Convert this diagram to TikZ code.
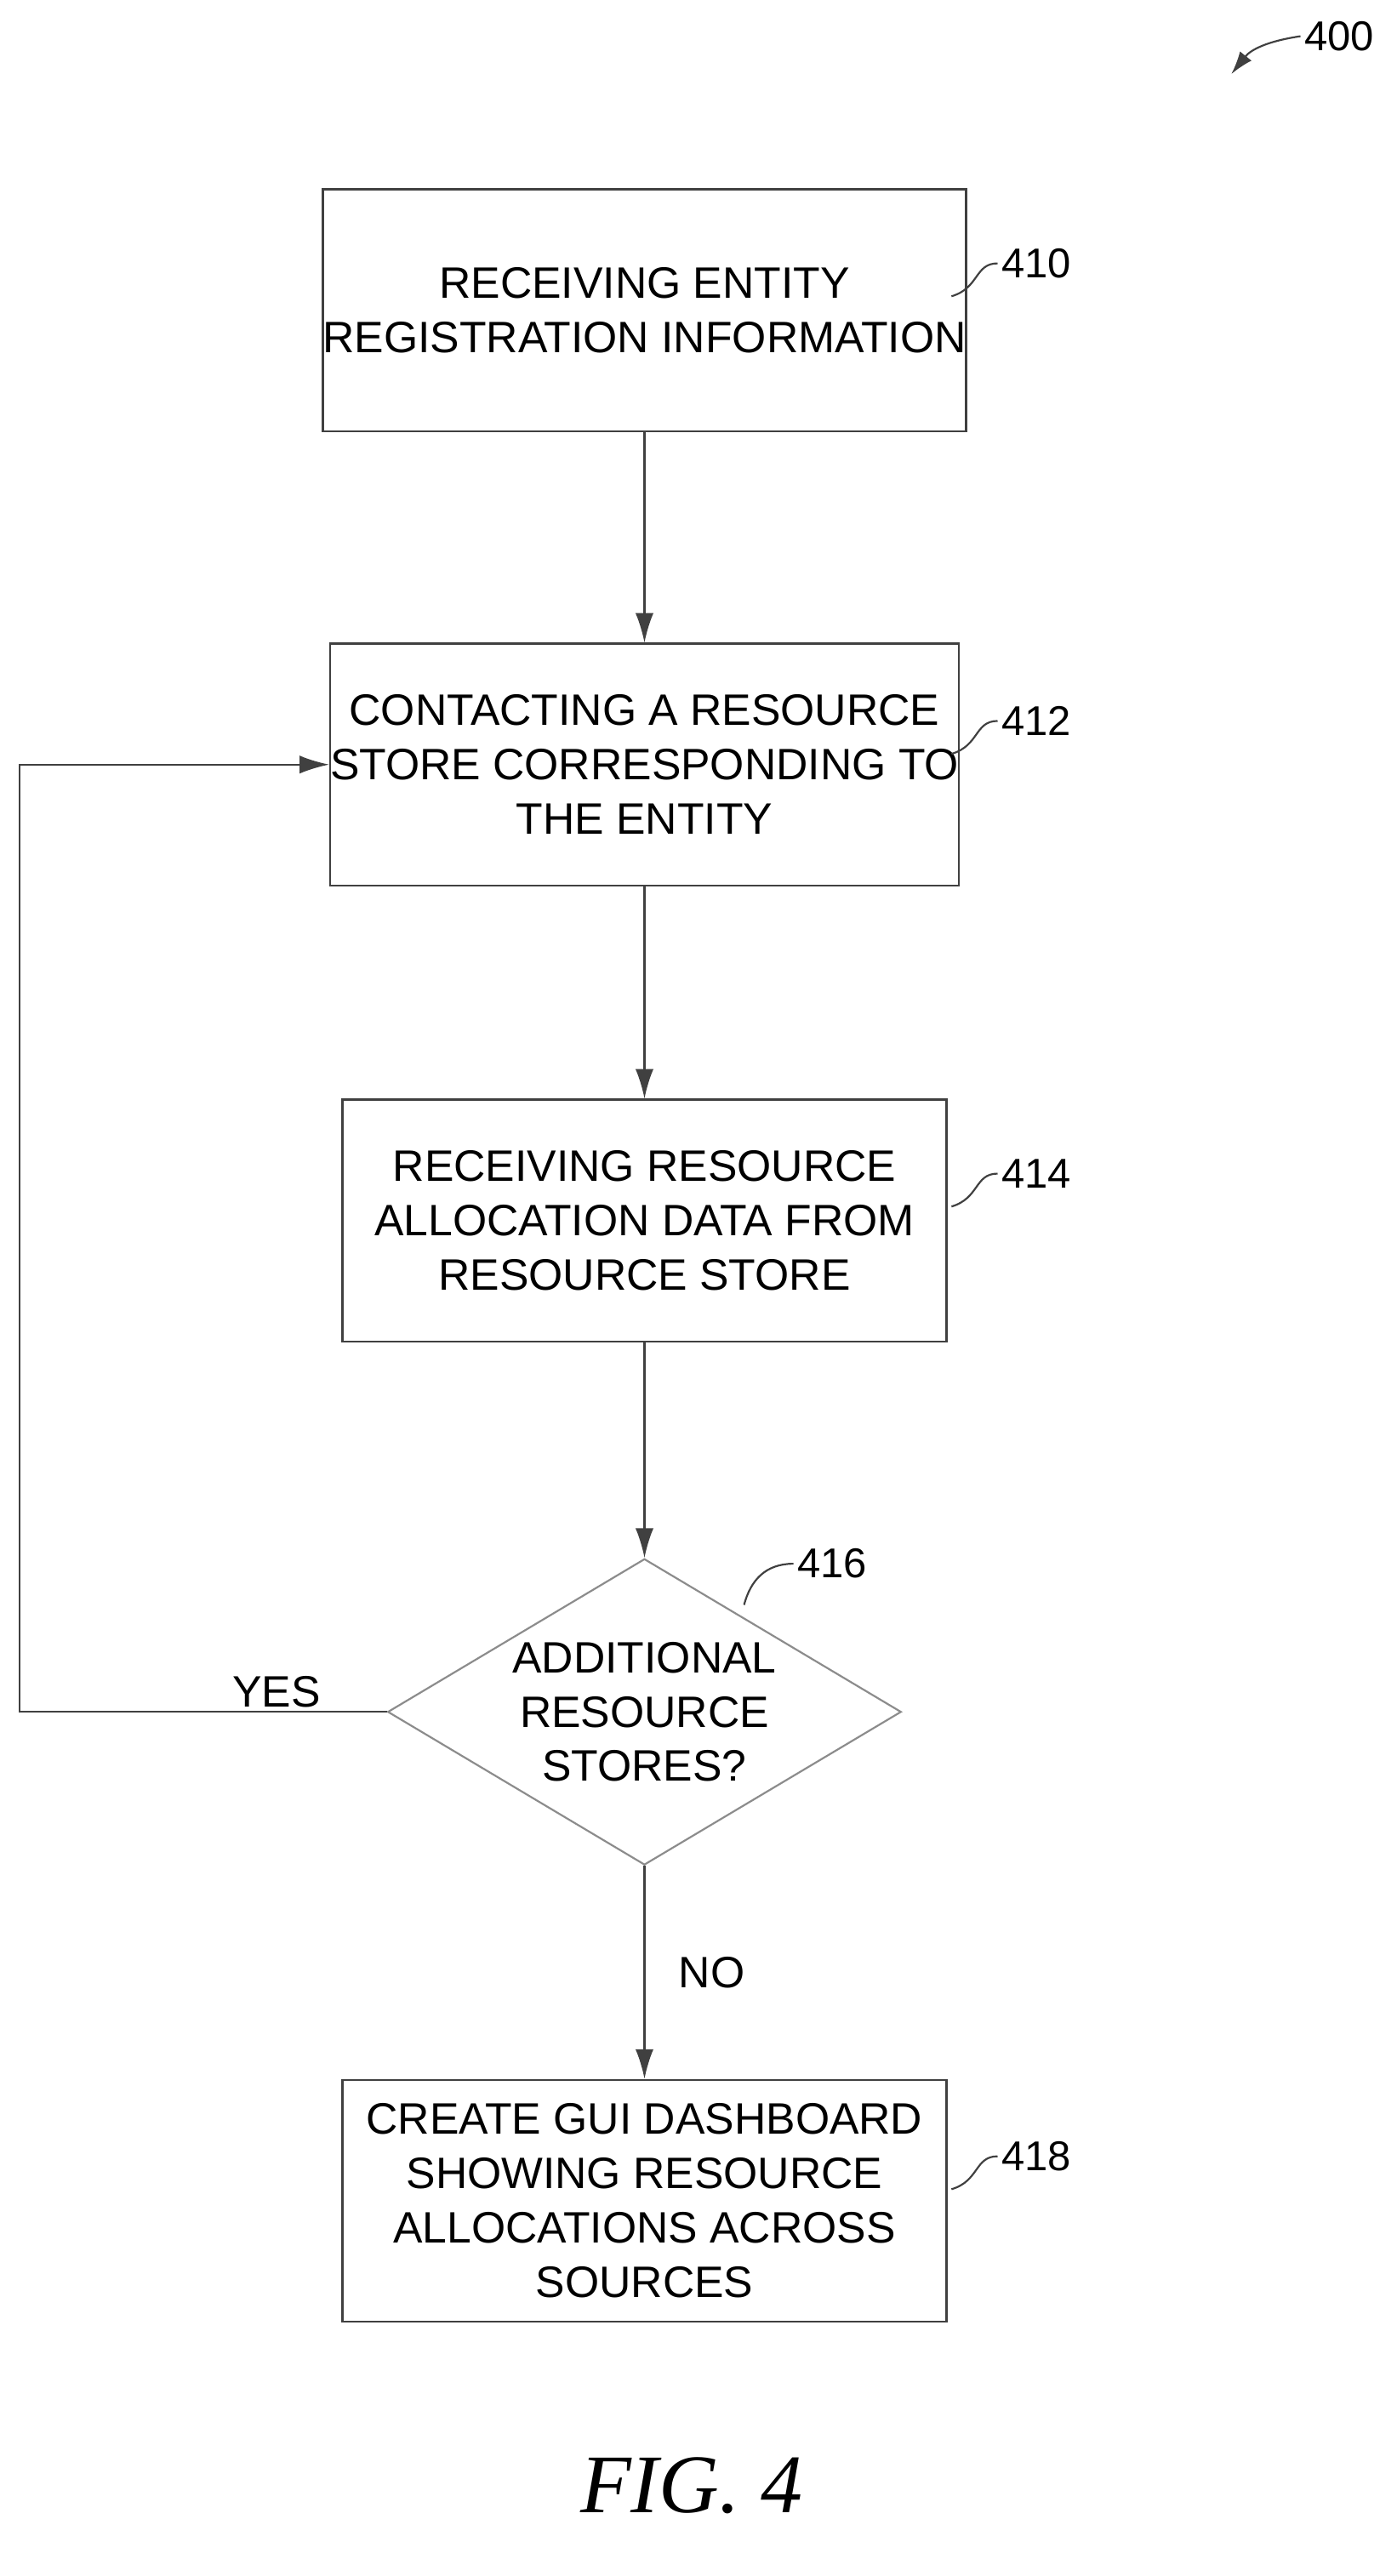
\documentclass[tikz,border=0pt]{standalone}
\usepackage{fontspec}
\setmainfont{Liberation Sans}
\newfontfamily\figfont{Liberation Serif}
\usetikzlibrary{shapes.geometric,arrows.meta,positioning}
\tikzset{
	process/.style={draw=black!75, line width=1.6pt, minimum width=18.35cm, minimum height=7.35cm, align=center, font=\fontsize{38}{47}\selectfont, inner sep=0pt},
	decision/.style={draw=black!45, line width=1.6pt, diamond, aspect=1.68, minimum width=15.6cm, minimum height=9.3cm, align=center, inner sep=0pt, font=\fontsize{38}{47}\selectfont},
	flow/.style={draw=black!75, line width=1.6pt, -{Latex[length=0.9cm,width=0.55cm]}},
	ref/.style={font=\fontsize{36}{40}\selectfont, anchor=west},
	lead/.style={line width=1.6pt, black!75}
}
\begin{document}
\begin{tikzpicture}[x=0.05cm,y=-0.05cm]
	\useasboundingbox (0,0) rectangle (838,1565);
	% steps
	\node[process] (receive) at (391.5,188.5) {RECEIVING ENTITY\\REGISTRATION INFORMATION};
	\node[process] (contact) at (391.5,464.5) {CONTACTING A RESOURCE\\STORE CORRESPONDING TO\\THE ENTITY};
	\node[process] (alloc) at (391.5,741.5) {RECEIVING RESOURCE\\ALLOCATION DATA FROM\\RESOURCE STORE};
	\node[decision] (more) at (391.5,1040) {ADDITIONAL\\RESOURCE\\STORES?};
	\node[process] (dash) at (391.5,1337) {CREATE GUI DASHBOARD\\SHOWING RESOURCE\\ALLOCATIONS ACROSS\\SOURCES};
	% connectors
	\draw[flow] (receive) -- (contact);
	\draw[flow] (contact) -- (alloc);
	\draw[flow] (alloc) -- (more.north);
	\draw[flow] (more.south) -- node[right=0.9cm, font=\fontsize{38}{40}\selectfont] {NO} (dash);
	\coordinate (loop) at (12,1040);
	\draw[flow] (more.west) -- node[above, pos=0.3, font=\fontsize{38}{40}\selectfont] {YES} (loop) |- (contact.west);
	% reference numerals
	\node[ref] (n410) at (606,160) {410};
	\node[ref] (n412) at (606,438) {412};
	\node[ref] (n414) at (606,713) {414};
	\node[ref] (n416) at (482,950) {416};
	\node[ref] (n418) at (606,1310) {418};
	\node[ref] (n400) at (790,22) {400};
	\draw[lead] (578,180) .. controls (595,175) and (592,160) .. (n410.west);
	\draw[lead] (578,458) .. controls (595,453) and (592,438) .. (n412.west);
	\draw[lead] (578,733) .. controls (595,728) and (592,713) .. (n414.west);
	\draw[lead] (452,975) .. controls (456,960) and (465,950) .. (n416.west);
	\draw[lead] (578,1330) .. controls (595,1325) and (592,1310) .. (n418.west);
	\draw[lead, -{Latex[length=0.7cm,width=0.45cm]}] (n400.west) .. controls (770,25) and (760,30) .. (748,45);
	% caption
	\node[font=\figfont\itshape\fontsize{72}{80}\selectfont] (fig) at (420,1510) {FIG. 4};
\end{tikzpicture}
\end{document}
